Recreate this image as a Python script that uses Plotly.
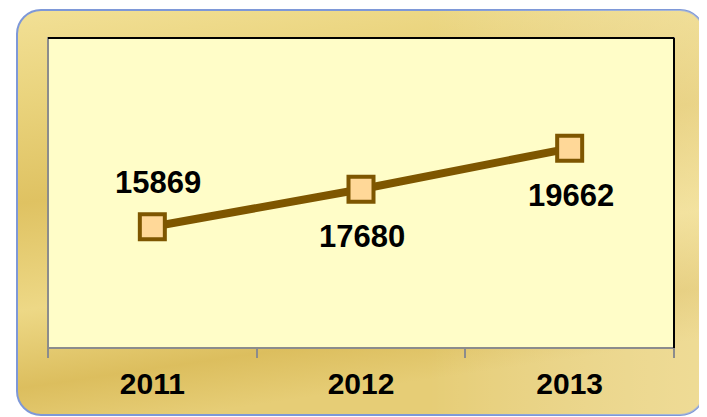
import base64
import plotly.graph_objects as go

years = ["2011", "2012", "2013"]
values = [15869, 17680, 19662]
label_pos = ["top", "bottom", "bottom"]

# page has an 8px body margin, so the figure is drawn 8px smaller
W, H = 699, 409
L, R, T, B = 40, 33, 30, 69

frame_svg = f"""<svg xmlns="http://www.w3.org/2000/svg" width="{W}" height="{H}" viewBox="0 0 {W} {H}">
<defs>
<linearGradient id="g" x1="0" y1="0" x2="0.25" y2="1">
<stop offset="0" stop-color="#F2E096"/>
<stop offset="0.2" stop-color="#EAD47E"/>
<stop offset="0.45" stop-color="#DFC262"/>
<stop offset="0.7" stop-color="#EDD886"/>
<stop offset="0.88" stop-color="#DCBE5E"/>
<stop offset="1" stop-color="#E6CD76"/>
</linearGradient>
<linearGradient id="h" x1="0" y1="0" x2="1" y2="0">
<stop offset="0" stop-color="#FFFFFF" stop-opacity="0"/>
<stop offset="0.6" stop-color="#FFFFFF" stop-opacity="0"/>
<stop offset="1" stop-color="#FFF6D0" stop-opacity="0.35"/>
</linearGradient>
</defs>
<rect x="9" y="2" width="687" height="405" rx="24" ry="24" fill="url(#g)" stroke="#7E98D8" stroke-width="2"/>
<rect x="9" y="2" width="687" height="405" rx="24" ry="24" fill="url(#h)"/>
</svg>"""
frame_uri = "data:image/svg+xml;base64," + base64.b64encode(frame_svg.encode()).decode()

pw, ph = W - L - R, H - T - B

fig = go.Figure()
fig.add_trace(go.Scatter(
    x=years,
    y=values,
    mode="lines+markers",
    line=dict(color="#7E5600", width=8),
    marker=dict(symbol="square", size=25, color="#FFD898",
                line=dict(color="#7E5600", width=4)),
    hoverinfo="skip",
    showlegend=False,
))

# value labels (category index used so "2011" isn't read as a number)
for i, (v, pos) in enumerate(zip(values, label_pos)):
    fig.add_annotation(
        x=i, y=v, text=f"<b>{v}</b>", showarrow=False,
        xshift=6 if i == 0 else 1,
        yshift=44 if pos == "top" else -47,
        font=dict(family="Liberation Sans, Arial", size=31, color="black"),
    )

fig.add_layout_image(
    source=frame_uri, xref="paper", yref="paper",
    x=-L / pw, y=1 + T / ph, sizex=W / pw, sizey=H / ph,
    xanchor="left", yanchor="top", sizing="stretch", layer="below",
)

# plot area frame: gray left/bottom, black top/right
fig.add_shape(type="rect", xref="paper", yref="paper", x0=0, x1=1, y0=0, y1=1,
              fillcolor="#FFFDC8", line=dict(color="#8C8C8C", width=2), layer="below")
fig.add_shape(type="line", xref="paper", yref="paper", x0=0, x1=1, y0=1, y1=1,
              line=dict(color="black", width=2))
fig.add_shape(type="line", xref="paper", yref="paper", x0=1, x1=1, y0=0, y1=1,
              line=dict(color="black", width=2))

fig.update_layout(
    width=W, height=H,
    margin=dict(l=L, r=R, t=T, b=B),
    paper_bgcolor="white",
    plot_bgcolor="rgba(0,0,0,0)",
    xaxis=dict(
        type="category", categoryorder="array", categoryarray=years,
        range=[-0.5, len(years) - 0.5], autorange=False,
        tickson="boundaries", ticks="outside", ticklen=9,
        tickwidth=2, tickcolor="#8C8C8C", showgrid=False, zeroline=False,
        showline=False, tickangle=0, ticklabelstandoff=15,
        tickfont=dict(family="Liberation Sans, Arial", size=30, color="black"),
        tickprefix="<b>", ticksuffix="</b>",
    ),
    yaxis=dict(range=[10000, 25000], visible=False, showgrid=False),
)

fig.write_html("out.html")
